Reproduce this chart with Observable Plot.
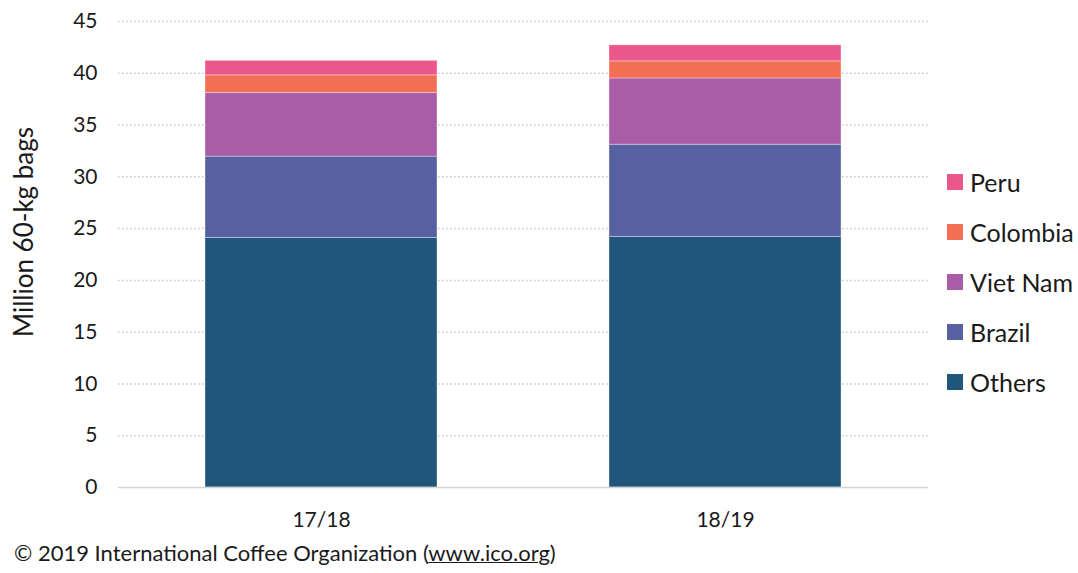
<!DOCTYPE html>
<html>
<head>
<meta charset="utf-8">
<script src="https://cdn.jsdelivr.net/npm/d3@7"></script>
<script src="https://cdn.jsdelivr.net/npm/@observablehq/plot@0.6"></script>
<style>
  html, body { margin: 0; padding: 0; background: #fff; }
  body { width: 1078px; height: 573px; position: relative; font-family: Lato, "Open Sans", sans-serif; color: #1a1a1a; overflow: hidden; }
  #chart { position: absolute; left: 0; top: 0; }
  #ytitle { position: absolute; left: 23px; top: 232px; transform: translate(-50%, -50%) rotate(-90deg); font-size: 26px; white-space: nowrap; }
  #legend { position: absolute; left: 947px; top: 157px; font-size: 25px; }
  .item { display: flex; align-items: center; height: 50px; }
  .sw { width: 16px; height: 16px; margin-right: 7px; }
  #caption { position: absolute; left: 14px; top: 539px; font-size: 22px; white-space: nowrap; }
  #caption u { text-decoration-thickness: 1px; }
</style>
</head>
<body>
<div id="chart"></div>
<div id="ytitle">Million 60-kg bags</div>
<div id="legend"></div>
<div id="caption">© 2019 International Coffee Organization (<u>www.ico.org</u>)</div>
<script>
const seasons = ["17/18", "18/19"];
const series = ["Others", "Brazil", "Viet Nam", "Colombia", "Peru"];
const colors = ["#20557c", "#5761a2", "#a95da8", "#f26f55", "#ec578b"];
const others   = [24.1, 24.2];
const brazil   = [7.85, 8.9];
const vietnam  = [6.15, 6.4];
const colombia = [1.7, 1.65];
const peru     = [1.4, 1.55];
const yTicks = [0, 5, 10, 15, 20, 25, 30, 35, 40, 45];

const valuesBySeries = [others, brazil, vietnam, colombia, peru];
const data = [];
series.forEach((s, i) => seasons.forEach((season, j) => data.push({season, series: s, value: valuesBySeries[i][j]})));

const chart = Plot.plot({
  width: 1078,
  height: 540,
  marginLeft: 118,
  marginRight: 150,
  marginTop: 21,
  marginBottom: 53,
  style: {fontFamily: "Lato, 'Open Sans', sans-serif", fontSize: "21px", color: "#1a1a1a", background: "transparent"},
  x: {domain: seasons, paddingInner: 0.426, paddingOuter: 0.214, label: null},
  y: {domain: [0, 45], label: null},
  color: {domain: series, range: colors},
  marks: [
    Plot.ruleY(yTicks.filter(d => d > 0), {stroke: "#c8c8c8", strokeWidth: 1.5, strokeDasharray: "1.5,2.5"}),
    Plot.barY(data, Plot.stackY({x: "season", y: "value", fill: "series", order: series, stroke: "#ffffff", strokeOpacity: 0.35, strokeWidth: 1})),
    Plot.ruleY([0], {stroke: "#d4d4d4", strokeWidth: 1.5}),
    Plot.axisX({tickSize: 0, tickPadding: 25, fontSize: 21, label: null}),
    Plot.axisY({ticks: yTicks, tickSize: 0, tickPadding: 21, fontSize: 21, label: null})
  ]
});
document.getElementById("chart").appendChild(chart);

const legend = document.getElementById("legend");
series.slice().reverse().forEach(s => {
  const i = series.indexOf(s);
  const item = document.createElement("div");
  item.className = "item";
  item.innerHTML = `<div class="sw" style="background:${colors[i]}"></div><span>${s}</span>`;
  legend.appendChild(item);
});
</script>
</body>
</html>
